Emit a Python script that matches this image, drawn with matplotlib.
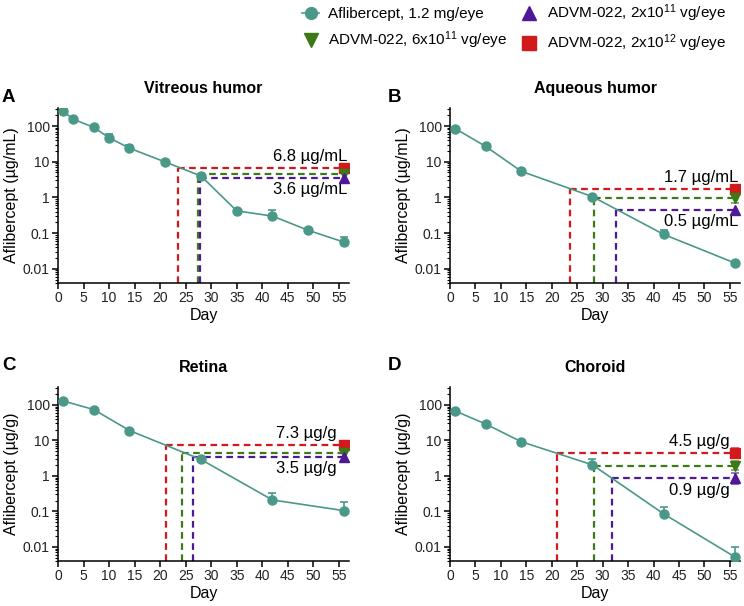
import numpy as np
import matplotlib
matplotlib.use("Agg")
import matplotlib.pyplot as plt
from matplotlib.lines import Line2D
from matplotlib.ticker import LogLocator, NullFormatter, FixedLocator

plt.rcParams['font.family'] = ['Liberation Sans', 'DejaVu Sans']
plt.rcParams['mathtext.fontset'] = 'custom'
plt.rcParams['mathtext.rm'] = 'Liberation Sans'
plt.rcParams['mathtext.it'] = 'Liberation Sans'

# ---------------- data ----------------
panel_letters = ['A', 'B', 'C', 'D']
panel_titles = ['Vitreous humor', 'Aqueous humor', 'Retina', 'Choroid']
y_labels = ['Aflibercept (µg/mL)', 'Aflibercept (µg/mL)',
            'Aflibercept (µg/g)', 'Aflibercept (µg/g)']

vit_days = [1, 3, 7, 10, 14, 21, 28, 35, 42, 49, 56]
vit_conc = [260, 155, 92, 47, 24, 9.8, 4.0, 0.42, 0.30, 0.12, 0.056]
vit_sd = [15, 10, 8, 14, 6, 0.8, 0.4, 0.06, 0.15, 0.01, 0.02]

aq_days = [1, 7, 14, 28, 42, 56]
aq_conc = [85, 27, 5.4, 1.05, 0.092, 0.0145]
aq_sd = [5, 2, 0.4, 0.08, 0.03, 0.001]

ret_days = [1, 7, 14, 28, 42, 56]
ret_conc = [130, 74, 19, 2.9, 0.21, 0.105]
ret_sd = [8, 5, 1.5, 0.3, 0.11, 0.08]

cho_days = [1, 7, 14, 28, 42, 56]
cho_conc = [68, 29, 9.2, 2.05, 0.085, 0.0052]
cho_sd = [4, 2, 0.8, 0.9, 0.05, 0.0048]

# ADVM-022 steady levels at day 56: [2x10^12, 6x10^11, 2x10^11]
advm_levels = [[6.8, 4.5, 3.6], [1.7, 0.95, 0.45], [7.3, 4.5, 3.5], [4.5, 1.9, 0.85]]
advm_err_lo = [[0, 0, 0], [0, 0.25, 0], [0, 0, 0], [1.2, 0.4, 0.25]]
advm_err_hi = [[0, 0, 0], [0, 0, 0], [0, 0, 0], [1.8, 0.8, 0.35]]
# day where aflibercept curve falls to each level
cross_days = [[23.6, 27.4, 27.9], [23.6, 28.4, 32.7], [21.1, 24.3, 26.4], [21.0, 28.4, 31.8]]
level_text = [['6.8 µg/mL', '3.6 µg/mL'], ['1.7 µg/mL', '0.5 µg/mL'],
              ['7.3 µg/g', '3.5 µg/g'], ['4.5 µg/g', '0.9 µg/g']]
text_x = [56.6, 56.6, 54.5, 54.9]

x_ticks = [0, 5, 10, 15, 20, 25, 30, 35, 40, 45, 50, 55]
y_ticks = [0.01, 0.1, 1, 10, 100]
y_tick_labels = ['0.01', '0.1', '1', '10', '100']

legend_labels = ['Aflibercept, 1.2 mg/eye',
                 'ADVM-022, 6x10$^{11}$ vg/eye',
                 'ADVM-022, 2x10$^{11}$ vg/eye',
                 'ADVM-022, 2x10$^{12}$ vg/eye']

teal = '#4a9888'
red = '#d2191c'
green = '#3b7a17'
purple = '#4e1896'
advm_colors = [red, green, purple]
advm_markers = ['s', 'v', '^']

all_days = [vit_days, aq_days, ret_days, cho_days]
all_conc = [vit_conc, aq_conc, ret_conc, cho_conc]
all_sd = [vit_sd, aq_sd, ret_sd, cho_sd]

# axes rectangles in pixels: left, top, width, height
W, H = 744, 606
rects = [(58, 108, 291, 175), (450, 108, 290, 175),
         (58, 387, 291, 174), (450, 387, 290, 174)]
letter_pos = [(2, 97), (388, 97), (2, 365), (388, 365)]

ymin, ymax = 0.004, 320


def main():
    fig = plt.figure(figsize=(7.44, 6.06), dpi=100)
    for i in range(4):
        l, t, w, h = rects[i]
        ax = fig.add_axes([l / W, 1 - (t + h) / H, w / W, h / H])
        draw_panel(ax, i)
        fig.text(letter_pos[i][0] / W, 1 - letter_pos[i][1] / H, panel_letters[i],
                 fontsize=13.5, fontweight='bold', va='center', ha='left')

    handles = [
        Line2D([], [], color=teal, marker='o', markersize=8.5, lw=1.2),
        Line2D([], [], color=green, marker='v', markersize=10, lw=0),
        Line2D([], [], color=purple, marker='^', markersize=10, lw=0),
        Line2D([], [], color=red, marker='s', markersize=9.5, lw=0),
    ]
    fig.legend(handles, legend_labels, ncol=2, frameon=False, fontsize=11,
               loc='upper left', bbox_to_anchor=(300 / W, 1.0),
               handlelength=1.1, handletextpad=0.6, columnspacing=0.9,
               labelspacing=0.55, borderaxespad=0.0, borderpad=0.15)

    fig.savefig('out.png', dpi=100)


def draw_panel(ax, i):
    days = all_days[i]
    conc = np.array(all_conc[i])
    sd = np.array(all_sd[i])
    ax.errorbar(days, conc, yerr=[np.zeros_like(sd), sd], color=teal, lw=1.2,
                marker='o', markersize=6.5, capsize=3, elinewidth=1.2, capthick=1.2,
                zorder=3)

    for k in range(3):
        lvl = advm_levels[i][k]
        c = advm_colors[k]
        cx = cross_days[i][k]
        ax.plot([cx, cx], [ymin, lvl], color=c, lw=1.6, ls=(0, (3, 2)), zorder=2)
        ax.plot([cx, 56], [lvl, lvl], color=c, lw=1.6, ls=(0, (3, 2)), zorder=2)
        lo = advm_err_lo[i][k]
        hi = advm_err_hi[i][k]
        if lo > 0 or hi > 0:
            ax.errorbar([56], [lvl], yerr=[[lo], [hi]], color=c, lw=0,
                        elinewidth=1.2, capsize=3, capthick=1.2, alpha=0.7, zorder=4)
        ax.plot([56], [lvl], marker=advm_markers[k], color=c, markersize=7,
                lw=0, zorder=5)

    ax.annotate(level_text[i][0], xy=(text_x[i], advm_levels[i][0]), xytext=(0, 3),
                textcoords='offset points', ha='right', va='bottom', fontsize=12)
    ax.annotate(level_text[i][1], xy=(text_x[i], advm_levels[i][2]), xytext=(0, -3),
                textcoords='offset points', ha='right', va='top', fontsize=12)

    ax.set_yscale('log')
    ax.set_ylim(ymin, ymax)
    ax.set_xlim(0, 57)
    ax.yaxis.set_major_locator(FixedLocator(y_ticks))
    ax.set_yticklabels(y_tick_labels)
    ax.yaxis.set_minor_locator(LogLocator(base=10, subs=np.arange(2, 10)))
    ax.yaxis.set_minor_formatter(NullFormatter())
    ax.set_xticks(x_ticks)

    for s in ['top', 'right']:
        ax.spines[s].set_visible(False)
    for s in ['left', 'bottom']:
        ax.spines[s].set_linewidth(1.1)
    ax.tick_params(axis='both', which='major', direction='out', length=4, width=1.1,
                   labelsize=10, colors='black', labelcolor='#222222', pad=2)
    ax.tick_params(axis='y', which='minor', direction='out', length=2, width=0.8)

    ax.set_title(panel_titles[i], fontsize=11.5, fontweight='bold', pad=11)
    ax.set_xlabel('Day', fontsize=11.5, labelpad=2)
    ax.set_ylabel(y_labels[i], fontsize=11.5, labelpad=3)


if __name__ == "__main__":
    main()
